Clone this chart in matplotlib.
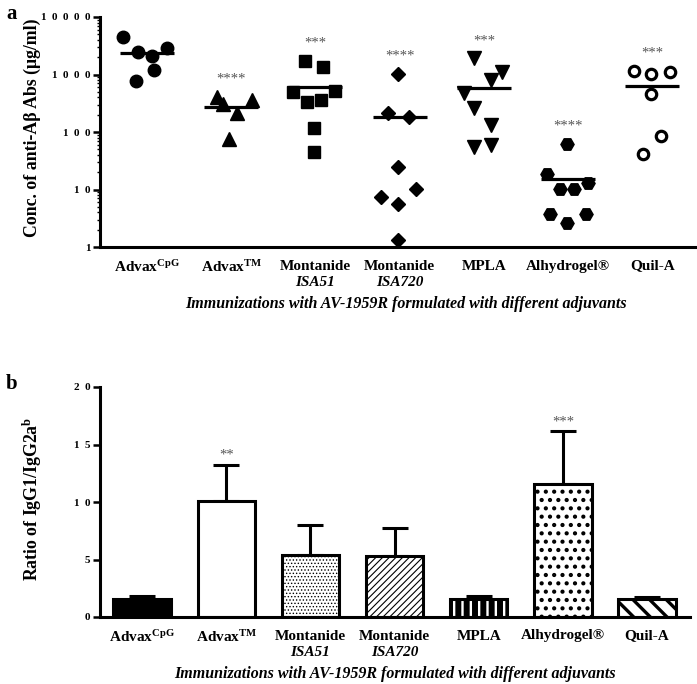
import numpy as np
import matplotlib
matplotlib.use("Agg")
import matplotlib.pyplot as plt
from matplotlib.ticker import FixedLocator, FixedFormatter, NullFormatter, LogLocator

plt.rcParams['font.family'] = ['Liberation Serif', 'DejaVu Serif']
plt.rcParams['font.weight'] = 'bold'
plt.rcParams['axes.labelweight'] = 'bold'
plt.rcParams['mathtext.fontset'] = 'custom'
plt.rcParams['mathtext.rm'] = 'Liberation Serif:bold'
plt.rcParams['mathtext.bf'] = 'Liberation Serif:bold'
plt.rcParams['mathtext.it'] = 'Liberation Serif:bold:italic'

# groups
labels = ["Advax$^{\\mathrm{CpG}}$", "Advax$^{\\mathrm{TM}}$", "Montanide",
          "Montanide", "MPLA", "Alhydrogel®", "Quil-A"]
sublabels = ["", "", "ISA51", "ISA720", "", "", ""]
xlabel = "Immunizations with AV-1959R formulated with different adjuvants"

# panel a: anti-Abeta antibody concentrations (ug/ml), one list per group
conc = [
    [4440, 2430, 2120, 2920, 1200, 771],
    [411, 303, 211, 360, 75],
    [1738, 1367, 502, 523, 337, 360, 117, 45],
    [1020, 217, 185, 24.3, 10.2, 7.5, 5.6, 1.32],
    [1914, 1119, 802, 471, 258, 132, 55, 59],
    [61.8, 18.6, 12.8, 10.1, 10.1, 3.75, 3.75, 2.58],
    [1164, 1020, 1119, 453, 85, 41],
]
conc_line = [2340, 275, 599, 180, 575, 15.2, 638]
stars_a = ["", "****", "***", "****", "***", "****", "***"]

# horizontal scatter of the points inside each group (category units)
jitter = [
    [-0.29, -0.11, 0.06, 0.23, 0.08, -0.13],
    [-0.17, -0.10, 0.07, 0.25, -0.03],
    [-0.12, 0.09, -0.27, 0.23, -0.10, 0.07, -0.02, -0.02],
    [-0.02, -0.14, 0.11, -0.02, 0.19, -0.22, -0.02, -0.02],
    [-0.12, 0.21, 0.09, -0.24, -0.12, 0.09, -0.12, 0.09],
    [-0.01, -0.25, 0.24, -0.10, 0.07, -0.22, 0.21, -0.01],
    [-0.22, -0.01, 0.21, -0.01, 0.11, -0.11],
]

# panel b: IgG1/IgG2a ratio, mean and SD
ratio = [1.55, 10.05, 5.4, 5.3, 1.57, 11.6, 1.57]
ratio_sd = [0.28, 3.2, 2.6, 2.45, 0.26, 4.55, 0.2]
stars_b = ["", "**", "", "", "", "***", ""]

marker_style = [
    dict(marker='o', ms=9, mfc='black'),
    dict(marker='^', ms=9.5, mfc='black'),
    dict(marker='s', ms=8.5, mfc='black'),
    dict(marker='D', ms=7.5, mfc='black'),
    dict(marker='v', ms=9.5, mfc='black'),
    dict(marker='H', ms=9.5, mfc='black'),
    dict(marker='o', ms=7.5, mfc='white', mew=2.3),
]

# bar looks: face, hatch, hatch colour, hatch linewidth
bar_style = [
    ('black', None, 'black', 1.0),
    ('white', None, 'black', 1.0),
    ('white', '.....', 'black', 0.6),
    ('white', '/////', 'black', 0.8),
    ('black', '||', 'white', 1.7),
    ('white', '..', 'black', 1.8),
    ('white', '\\\\', 'black', 2.4),
]

fig = plt.figure(figsize=(6.97, 6.84), dpi=100)
ax1 = fig.add_axes([100 / 697, 1 - 247 / 684, 596 / 697, 230 / 684])
ax2 = fig.add_axes([100 / 697, 1 - 617 / 684, 590 / 697, 230 / 684])

x = np.arange(len(labels))


def style_axes(ax):
    for s in ['top', 'right']:
        ax.spines[s].set_visible(False)
    for s in ['left', 'bottom']:
        ax.spines[s].set_linewidth(2.2)
    ax.tick_params(axis='x', length=0, pad=9, labelsize=11)
    ax.tick_params(axis='y', which='major', length=5, width=1.8, pad=2, labelsize=8)
    ax.tick_params(axis='y', which='minor', length=2.5, width=1.0)
    ax.set_xticks(x)
    ax.set_xticklabels(labels)
    for i in x:
        if sublabels[i]:
            ax.annotate(sublabels[i], (i, 0), xycoords=('data', 'axes fraction'),
                        xytext=(0, -25.5), textcoords='offset points',
                        ha='center', va='center', fontsize=11, fontstyle='italic')
    ax.set_xlabel(xlabel, fontstyle='italic', fontsize=11.5, labelpad=15)


# ---- panel a
for i in x:
    xs = i + np.array(jitter[i])
    ax1.plot(xs, conc[i], linestyle='none', mec='black', color='black', **marker_style[i])
    ax1.plot([i - 0.32, i + 0.32], [conc_line[i]] * 2, color='black', lw=2.3, solid_capstyle='butt')
    if stars_a[i]:
        ax1.annotate(stars_a[i], (i, max(conc[i])), xytext=(0, 8), textcoords='offset points',
                     ha='center', va='bottom', fontsize=10.5, color='#555555', fontweight='normal')

ax1.set_yscale('log')
ax1.set_ylim(1, 10000)
ax1.set_xlim(-0.56, 6.52)
ax1.yaxis.set_major_locator(FixedLocator([1, 10, 100, 1000, 10000]))
ax1.yaxis.set_major_formatter(FixedFormatter(["1", "1  0", "1  0  0", "1  0  0  0", "1  0  0  0  0"]))
ax1.yaxis.set_minor_locator(LogLocator(base=10, subs=np.arange(2, 10)))
ax1.yaxis.set_minor_formatter(NullFormatter())
style_axes(ax1)
ax1.xaxis.label.set_x(0.513)
ax1.set_ylabel("Conc. of anti-Aβ Abs (μg/ml)", fontsize=12.8)
ax1.yaxis.set_label_coords(-0.099, 0.52)

# ---- panel b
for i in x:
    face, hatch, hcol, hlw = bar_style[i]
    ax2.errorbar(i, ratio[i], yerr=[[0], [ratio_sd[i]]], fmt='none', ecolor='black',
                 elinewidth=2.2, capsize=9.5, capthick=2.2, zorder=1)
    b = ax2.bar(i, ratio[i], width=0.68, color=face, edgecolor=hcol, hatch=hatch, lw=0, zorder=2)
    for p in b:
        if hasattr(p, 'set_hatch_linewidth'):
            p.set_hatch_linewidth(hlw)
    ax2.bar(i, ratio[i], width=0.68, fill=False, edgecolor='black', lw=2.2, zorder=3)
    if stars_b[i]:
        ax2.annotate(stars_b[i], (i, ratio[i] + ratio_sd[i]), xytext=(0, 2), textcoords='offset points',
                     ha='center', va='bottom', fontsize=10.5, color='#555555', fontweight='normal')

ax2.set_ylim(0, 20)
ax2.set_xlim(-0.5, 6.51)
ax2.yaxis.set_major_locator(FixedLocator([0, 5, 10, 15, 20]))
ax2.yaxis.set_major_formatter(FixedFormatter(["0", "5", "1  0", "1  5", "2  0"]))
style_axes(ax2)
ax2.set_ylabel("Ratio of IgG1/IgG2a$^{\\mathrm{b}}$", fontsize=12.8)
ax2.yaxis.set_label_coords(-0.095, 0.513)

fig.text(6 / 697, 1 - 4 / 684, "a", fontsize=15, va='top', ha='left')
fig.text(6 / 697, 1 - 374 / 684, "b", fontsize=15, va='top', ha='left')

fig.savefig("out.png", dpi=100)
